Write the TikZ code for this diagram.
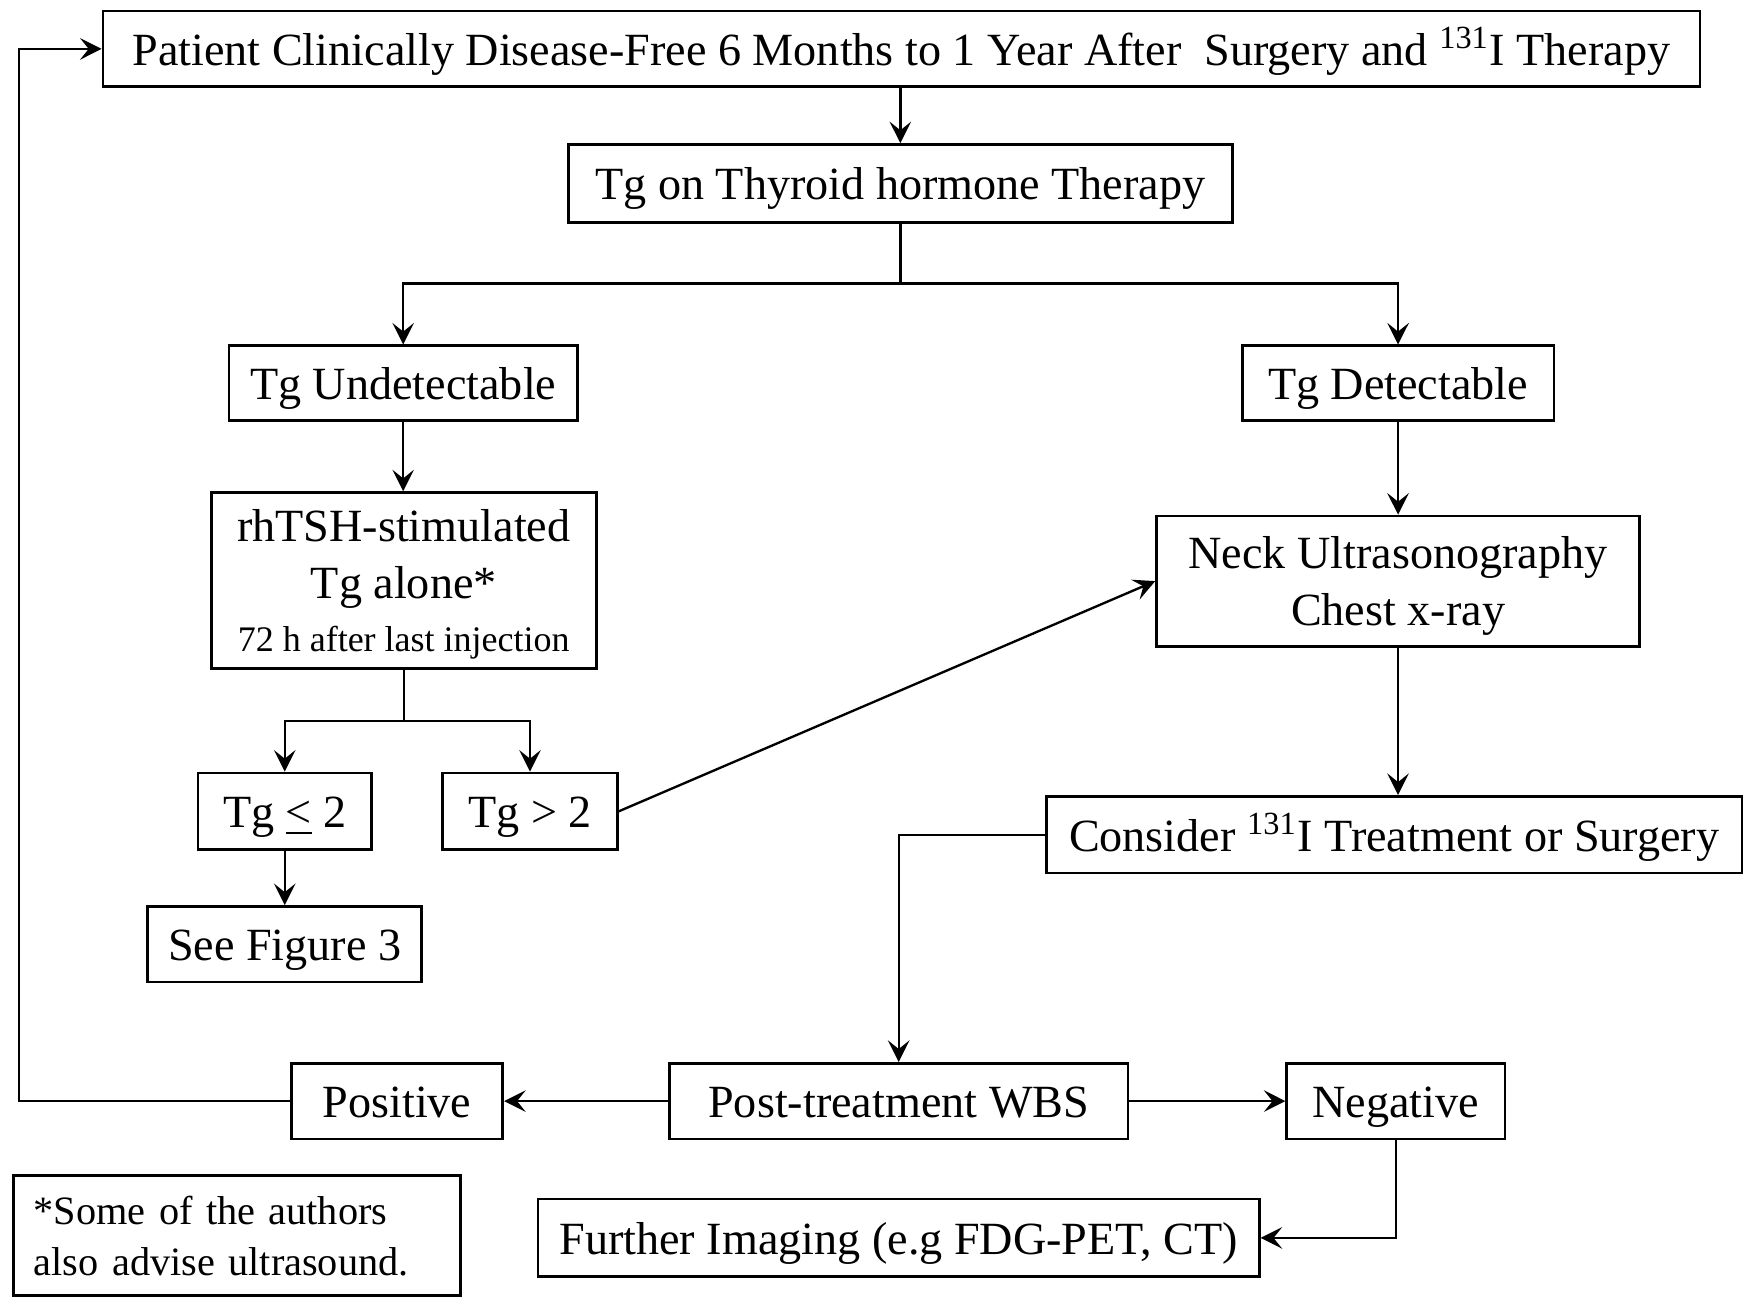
\documentclass[tikz,border=0pt]{standalone}
\usepackage{fontspec}
\setmainfont{Liberation Serif}
\usetikzlibrary{arrows.meta}

\tikzset{
  tallbox/.style={draw, line width=0.7pt, inner sep=0pt, align=center,
    font=\fontsize{11.8}{14.5}\selectfont},
  box/.style={tallbox, text height=10.5pt, text depth=2.1pt},
  link/.style={line width=0.6pt, -{Stealth[length=5.5pt, width=5.5pt, inset=2.2pt]}},
  wire/.style={line width=0.6pt},
}

\begin{document}
\begin{tikzpicture}[x=0.01cm, y=-0.01cm]
\useasboundingbox (0,0) rectangle (1568,1168);

% Caselle
\node[box, minimum width=14.35cm, minimum height=0.68cm] (top) at (810.5,44)
  {Patient Clinically Disease-Free 6 Months to 1 Year After \ Surgery and \textsuperscript{131}I Therapy};
\node[box, minimum width=5.97cm, minimum height=0.70cm] (tgthr) at (809.5,165) {Tg on Thyroid hormone Therapy};
\node[box, minimum width=3.13cm, minimum height=0.67cm] (undet) at (362.5,344.5) {Tg Undetectable};
\node[box, minimum width=2.80cm, minimum height=0.67cm] (det) at (1257,344.5) {Tg Detectable};
\node[tallbox, minimum width=3.46cm, minimum height=1.58cm, text depth=-3pt] (rhtsh) at (363,522)
  {rhTSH-stimulated\\Tg alone*\\[-1pt]{\fontsize{9.2}{11}\selectfont 72 h after last injection}};
\node[tallbox, minimum width=4.34cm, minimum height=1.17cm, text depth=0pt] (neck) at (1257,522.5)
  {Neck Ultrasonography\\Chest x-ray};
\node[box, minimum width=1.56cm, minimum height=0.69cm] (le2) at (256,729.5) {Tg \underline{<} 2};
\node[box, minimum width=1.57cm, minimum height=0.69cm] (gt2) at (476.5,729.5) {Tg > 2};
\node[box, minimum width=2.46cm, minimum height=0.68cm] (fig3) at (256,849) {See Figure 3};
\node[box, minimum width=6.25cm, minimum height=0.69cm] (consider) at (1253.5,750.5)
  {Consider \textsuperscript{131}I Treatment or Surgery};
\node[box, minimum width=4.12cm, minimum height=0.68cm] (wbs) at (808,990) {Post-treatment WBS};
\node[box, minimum width=1.90cm, minimum height=0.68cm] (pos) at (357,990) {Positive};
\node[box, minimum width=1.96cm, minimum height=0.68cm] (neg) at (1255,990) {Negative};
\node[box, minimum width=6.48cm, minimum height=0.70cm] (further) at (808,1113) {Further Imaging (e.g FDG-PET, CT)};
\node[tallbox, minimum width=4.02cm, minimum height=1.08cm, text width=3.65cm, align=left,
  font=\fontsize{10.3}{13}\selectfont] (note) at (213,1111)
  {*Some of the authors\\also advise ultrasound.};

% Collegamenti
\coordinate (split1) at (809.5,255);
\coordinate (split2) at (363,648);
\coordinate (back) at (17,44);

\draw[link] (tgthr.north |- top.south) -- (tgthr.north);
\draw[wire] (tgthr.south) -- (split1);
\draw[link] (split1) -| (undet.north);
\draw[link] (split1) -| (det.north);
\draw[link] (undet.south) -- (undet.south |- rhtsh.north);
\draw[wire] (rhtsh.south) -- (split2);
\draw[link] (split2) -| (le2.north);
\draw[link] (split2) -| (gt2.north);
\draw[link] (le2) -- (fig3);
\draw[link] (gt2.east) -- (neck.west);
\draw[link] (det) -- (neck);
\draw[link] (neck.south) -- (neck.south |- consider.north);
\draw[link] (consider.west) -| (wbs.north);
\draw[link] (wbs) -- (pos);
\draw[link] (wbs) -- (neg);
\draw[link] (pos.west) -| (back) -- (top.west); % ritorno
\draw[link] (neg.south) |- (further.east);

\end{tikzpicture}
\end{document}
